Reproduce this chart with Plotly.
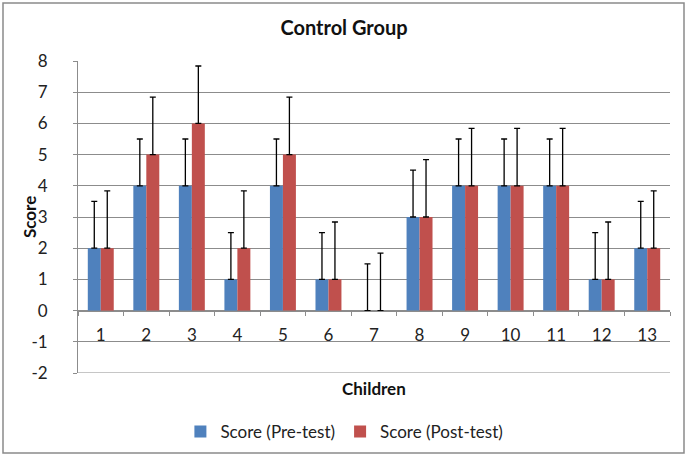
import plotly.graph_objects as go

children = [str(i) for i in range(1, 14)]
pre_scores = [2, 4, 4, 1, 4, 1, 0, 3, 4, 4, 4, 1, 2]
post_scores = [2, 5, 6, 2, 5, 1, 0, 3, 4, 4, 4, 1, 2]
pre_err = [1.5] * 13
post_err = [1.84] * 13
zeros = [0] * 13
y_ticks = [-2, -1, 0, 1, 2, 3, 4, 5, 6, 7, 8]
y_tick_labels = ["-2", "-1", "0", "1", "2", "3", "4", "5", "6", "7", "8"]
y_min, y_max = -2, 8

FONT = "Lato, Open Sans, sans-serif"
GRID = "#8c8c8c"

fig = go.Figure()
fig.add_trace(go.Bar(
    x=children, y=pre_scores, name="Score (Pre-test)",
    marker=dict(color="#4F81BD", line=dict(width=0)),
    error_y=dict(type="data", symmetric=False, array=pre_err, arrayminus=zeros,
                 color="black", thickness=1.3, width=3),
))
fig.add_trace(go.Bar(
    x=children, y=post_scores, name="Score (Post-test)",
    marker=dict(color="#C0504D", line=dict(width=0)),
    error_y=dict(type="data", symmetric=False, array=post_err, arrayminus=zeros,
                 color="black", thickness=1.3, width=3),
))

fig.update_layout(
    width=688, height=458,
    margin=dict(l=78, r=18, t=61, b=85, autoexpand=False),
    paper_bgcolor="white", plot_bgcolor="white",
    font=dict(family=FONT, color="#222", size=15),
    barmode="group", bargap=0.43, bargroupgap=0,
    title=dict(text="<b>Control Group</b>", x=0.5, xref="container", xanchor="center",
               y=1 - 28 / 458, yref="container", yanchor="middle",
               font=dict(size=20, color="#111", family=FONT)),
    showlegend=True,
    legend=dict(orientation="h", x=0.45, xanchor="center", y=-0.189, yanchor="middle",
                font=dict(size=17, color="#222"), traceorder="normal",
                itemwidth=30, bgcolor="rgba(0,0,0,0)"),
    xaxis=dict(type="category", anchor="free", position=0.2, automargin=False,
               showline=True, linecolor=GRID, linewidth=1,
               ticks="outside", tickson="boundaries", ticklen=4, tickcolor=GRID,
               showgrid=False, ticklabelstandoff=9,
               tickfont=dict(size=17, color="#222")),
    yaxis=dict(range=[y_min, y_max], tickmode="array", tickvals=y_ticks, ticktext=y_tick_labels,
               automargin=False,
               showgrid=True, gridcolor=GRID, gridwidth=1,
               showline=True, linecolor=GRID, linewidth=1,
               ticks="outside", ticklen=4, tickcolor=GRID, ticklabelstandoff=22,
               zeroline=False, tickfont=dict(size=17, color="#222")),
    annotations=[
        dict(text="<b>Children</b>", xref="paper", yref="paper", x=0.5, y=(373 - 388) / 312,
             xanchor="center", yanchor="middle", showarrow=False,
             font=dict(size=17, color="#111")),
        dict(text="<b>Score</b>", xref="paper", yref="paper", x=(29 - 78) / 592, y=0.5,
             xanchor="center", yanchor="middle", showarrow=False, textangle=-90,
             font=dict(size=17, color="#111")),
    ],
    shapes=[
        dict(type="rect", xref="paper", yref="paper",
             x0=(3 - 78) / 592, x1=(684 - 78) / 592,
             y0=(373 - 453) / 312, y1=(373 - 3) / 312,
             line=dict(color="#8a8a8a", width=1.5), layer="below"),
        # bottom gridline (hidden by plotly at the range edge)
        dict(type="line", xref="paper", yref="y", x0=0, x1=1, y0=y_min, y1=y_min,
             line=dict(color=GRID, width=1), layer="below"),
    ],
)

fig.write_html("out.html", config={"displayModeBar": False},
               post_script="document.body.style.margin='0px';")
